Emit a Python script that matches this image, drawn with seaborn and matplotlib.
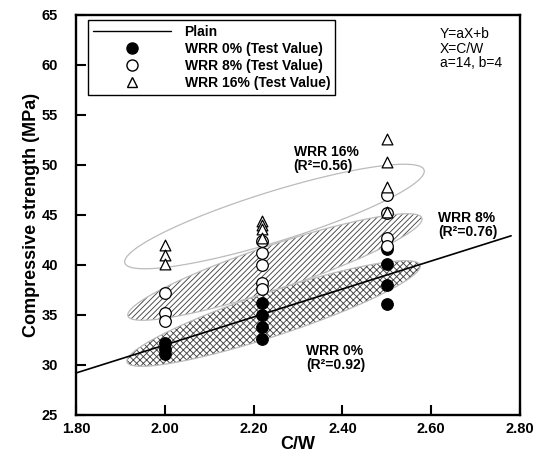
import numpy as np
import pandas as pd
import matplotlib
matplotlib.use("Agg")
import matplotlib.pyplot as plt
from matplotlib.lines import Line2D
import seaborn as sns

# ---------------- data ----------------
x_wrr0 = [2.00, 2.00, 2.00, 2.22, 2.22, 2.22, 2.22, 2.50, 2.50, 2.50, 2.50]
y_wrr0 = [32.2, 31.6, 31.1, 36.2, 35.0, 33.8, 32.6, 41.6, 40.1, 38.0, 36.1]

x_wrr8 = [2.00, 2.00, 2.00, 2.22, 2.22, 2.22, 2.22, 2.22, 2.50, 2.50, 2.50, 2.50]
y_wrr8 = [37.2, 35.2, 34.4, 42.4, 41.2, 40.0, 38.2, 37.6, 47.0, 45.2, 42.7, 41.9]

x_wrr16 = [2.00, 2.00, 2.00, 2.22, 2.22, 2.22, 2.22, 2.50, 2.50, 2.50, 2.50]
y_wrr16 = [42.0, 41.0, 40.1, 44.4, 44.0, 43.6, 42.7, 52.6, 50.3, 47.8, 45.3]

plain_x = [1.80, 2.78]
plain_y = [29.2, 42.92]

# ellipse regions: left end, right end (data)
ell0_ends = [(1.915, 30.3), (2.575, 40.0)]
ell8_ends = [(1.917, 34.9), (2.579, 44.7)]
ell16_ends = [(1.910, 40.2), (2.584, 49.5)]

xticks = [1.80, 2.00, 2.20, 2.40, 2.60, 2.80]
yticks = [25, 30, 35, 40, 45, 50, 55, 60, 65]

# ---------------- style ----------------
sns.set_style("ticks")
plt.rcParams["font.family"] = ["Liberation Sans", "DejaVu Sans"]
plt.rcParams["hatch.linewidth"] = 0.65
for k in ["text.color", "axes.labelcolor", "xtick.color", "ytick.color", "axes.edgecolor"]:
    plt.rcParams[k] = "black"

fig = plt.figure(figsize=(5.47, 4.59), dpi=100)
ax = fig.add_axes([76/547, 44/459, 444/547, 400/459])
ax.set_xlim(1.80, 2.80)
ax.set_ylim(25, 65)

df = pd.concat([
    pd.DataFrame({"C/W": x_wrr0, "strength": y_wrr0, "group": "WRR 0%"}),
    pd.DataFrame({"C/W": x_wrr8, "strength": y_wrr8, "group": "WRR 8%"}),
    pd.DataFrame({"C/W": x_wrr16, "strength": y_wrr16, "group": "WRR 16%"}),
], ignore_index=True)


def ellipse_pts(ends, b_px, n=200):
    tr = ax.transData
    p0 = tr.transform(ends[0])
    p1 = tr.transform(ends[1])
    c = (p0 + p1) / 2
    v = (p1 - p0) / 2
    a = np.hypot(*v)
    u = v / a
    nv = np.array([-u[1], u[0]])
    t = np.linspace(0, 2 * np.pi, n)
    pts = c + np.outer(np.cos(t), v) + np.outer(np.sin(t), nv * b_px)
    return tr.inverted().transform(pts)


def draw_ellipse(ends, b_px, hatch=None):
    pts = ellipse_pts(ends, b_px)
    if hatch:
        ax.fill(pts[:, 0], pts[:, 1], facecolor="none", edgecolor="#444444",
                hatch=hatch, linewidth=0, zorder=1)
    ax.fill(pts[:, 0], pts[:, 1], facecolor="none", edgecolor="#bbbbbb",
            linewidth=0.9, zorder=1.1)


draw_ellipse(ell16_ends, 25)
draw_ellipse(ell8_ends, 22, hatch="//////")
draw_ellipse(ell0_ends, 22, hatch="xxxxx")

sns.lineplot(x=plain_x, y=plain_y, ax=ax, color="black", linewidth=1.2, zorder=2)

sub = df[df.group == "WRR 0%"]
sns.scatterplot(data=sub, x="C/W", y="strength", ax=ax, marker="o", s=70,
                facecolor="black", edgecolor="black", linewidth=0.8, zorder=3, legend=False)
sub = df[df.group == "WRR 8%"]
sns.scatterplot(data=sub, x="C/W", y="strength", ax=ax, marker="o", s=70,
                facecolor="white", edgecolor="black", linewidth=0.9, zorder=3, legend=False)
sub = df[df.group == "WRR 16%"]
sns.scatterplot(data=sub, x="C/W", y="strength", ax=ax, marker="^", s=60,
                facecolor="white", edgecolor="black", linewidth=0.9, zorder=3, legend=False)

# ---------------- axes ----------------
ax.set_xticks(xticks)
ax.set_xticklabels([f"{v:.2f}" for v in xticks])
ax.set_yticks(yticks)
ax.set_yticklabels([str(v) for v in yticks])
ax.tick_params(direction="in", length=7, width=1.5, labelsize=10.5, pad=5, colors="black")
ax.tick_params(axis="y", pad=13)
for lab in ax.get_xticklabels() + ax.get_yticklabels():
    lab.set_fontweight("bold")
for sp in ax.spines.values():
    sp.set_linewidth(1.7)
    sp.set_color("black")
    sp.set_visible(True)
ax.set_xlabel("C/W", fontsize=13, fontweight="bold", labelpad=0)
ax.set_ylabel("Compressive strength (MPa)", fontsize=13, fontweight="bold", labelpad=1)

# ---------------- legend ----------------
handles = [
    Line2D([], [], color="black", linewidth=1.0),
    Line2D([], [], linestyle="none", marker="o", markersize=8, markerfacecolor="black",
           markeredgecolor="black"),
    Line2D([], [], linestyle="none", marker="o", markersize=8, markerfacecolor="white",
           markeredgecolor="black"),
    Line2D([], [], linestyle="none", marker="^", markersize=7, markerfacecolor="white",
           markeredgecolor="black"),
]
labels = ["Plain", "WRR 0% (Test Value)", "WRR 8% (Test Value)", "WRR 16% (Test Value)"]
leg = ax.legend(handles, labels, loc="upper left", bbox_to_anchor=(0.027, 0.988),
                borderaxespad=0, frameon=True, fancybox=False, edgecolor="black",
                framealpha=1, handlelength=5.6, handletextpad=1.0, labelspacing=0.22,
                borderpad=0.35, prop={"weight": "bold", "size": 10})
leg.get_frame().set_linewidth(1.0)

# ---------------- annotations ----------------
ax.text(0.82, 0.97, "Y=aX+b\nX=C/W\na=14, b=4", transform=ax.transAxes,
        fontsize=10, va="top", ha="left", linespacing=1.05)
ax.text(2.29, 50.6, "WRR 16%\n(R²=0.56)", fontsize=10, fontweight="bold",
        ha="left", va="center", linespacing=1.05)
ax.text(2.615, 44.0, "WRR 8%\n(R²=0.76)", fontsize=10, fontweight="bold",
        ha="left", va="center", linespacing=1.05)
ax.text(2.318, 30.7, "WRR 0%\n(R²=0.92)", fontsize=10, fontweight="bold",
        ha="left", va="center", linespacing=1.05)

fig.savefig("out.png", dpi=100)
